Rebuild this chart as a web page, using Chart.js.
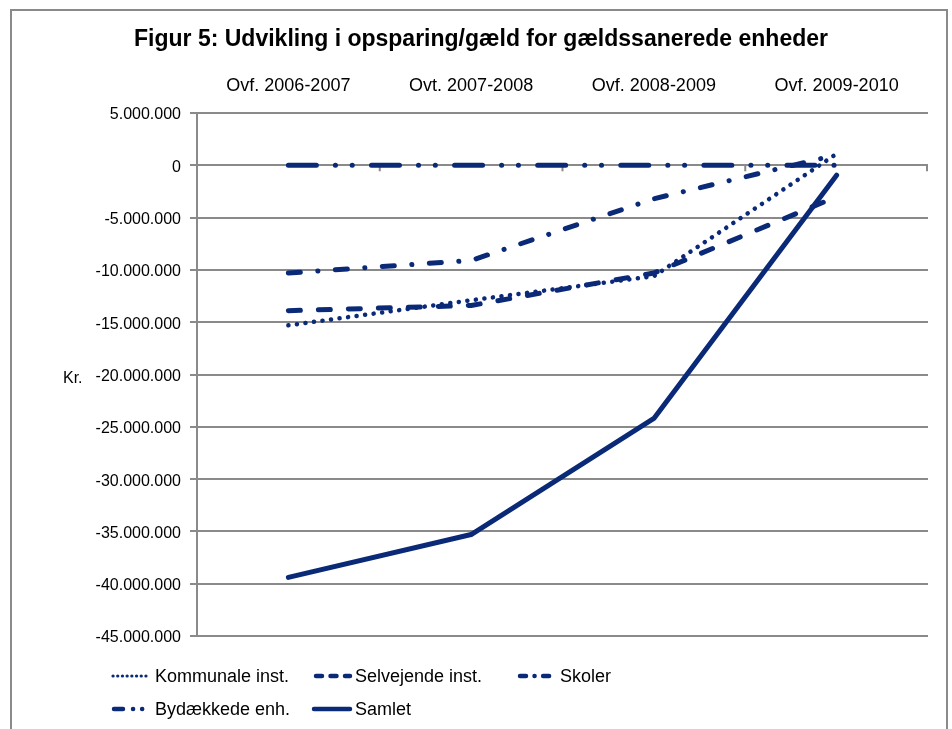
<!DOCTYPE html>
<html>
<head>
<meta charset="utf-8">
<script src="https://cdn.jsdelivr.net/npm/chart.js@4.4.1/dist/chart.umd.min.js"></script>
<style>
  html, body { margin: 0; padding: 0; background: #ffffff; }
  #wrap { position: relative; width: 952px; height: 729px; overflow: hidden; background: #fff; }
  #frame { position: absolute; left: 10px; top: 9px; width: 938px; height: 760px; border: 2px solid #8a8a8a; box-sizing: border-box; }
  canvas { position: absolute; left: 0; top: 0; }
</style>
</head>
<body>
<div id="wrap">
  <div id="frame"></div>
  <canvas id="c" width="952" height="729"></canvas>
</div>
<script>
const categories = ['Ovf. 2006-2007', 'Ovt. 2007-2008', 'Ovf. 2008-2009', 'Ovf. 2009-2010'];
const kommunale = [-15300000, -12900000, -10600000, 1100000];
const selvejende = [-13900000, -13400000, -10300000, -3000000];
const skoler = [-10300000, -9100000, -3200000, 1000000];
const bydaekkede = [0, 0, 0, 0];
const samlet = [-39400000, -35300000, -24200000, -950000];
const seriesNames = ['Kommunale inst.', 'Selvejende inst.', 'Skoler', 'Bydækkede enh.', 'Samlet'];
const titleText = 'Figur 5: Udvikling i opsparing/gæld for gældssanerede enheder';
const yAxisLabel = 'Kr.';

const NAVY = '#0a2a78';
const GRID = '#8a8a8a';
const FONT = "'Liberation Sans', Arial, sans-serif";
const X_SIZE = 18;
const Y_SIZE = 16;
const LEG_SIZE = 18;

function fmt(v) {
  const neg = v < 0;
  const s = Math.abs(Math.round(v)).toString().replace(/\B(?=(\d{3})+(?!\d))/g, '.');
  return (neg ? '-' : '') + s;
}

const styles = [
  { dash: [0.1, 8.5], width: 4.5, legDash: [0.1, 4.6], legWidth: 3.2 },
  { dash: [12, 18], width: 5, legDash: [6, 8.5], legWidth: 4.5 },
  { dash: [12, 17.5, 0.1, 17.5], width: 5, legDash: [6, 8.5, 0.1, 8.5], legWidth: 4.5 },
  { dash: [28, 19, 0.1, 16.7, 0.1, 19.2], width: 5, legDash: [9, 10, 0.1, 9, 0.1, 20], legWidth: 4.5 },
  { dash: [], width: 5, legDash: [], legWidth: 4.5 }
];
const dataArr = [kommunale, selvejende, skoler, bydaekkede, samlet];

const datasets = dataArr.map((d, i) => ({
  label: seriesNames[i],
  data: d,
  borderColor: NAVY,
  backgroundColor: NAVY,
  borderWidth: styles[i].width,
  borderDash: styles[i].dash,
  borderCapStyle: 'round',
  borderJoinStyle: 'round',
  pointRadius: 0,
  pointHoverRadius: 0,
  tension: 0,
  fill: false
}));

const decorPlugin = {
  id: 'decor',
  beforeDatasetsDraw(chart) {
    // category-axis tick marks on the zero line (between categories)
    const ctx = chart.ctx;
    const xs = chart.scales.x;
    const y0 = chart.scales.y.getPixelForValue(0);
    const n = categories.length;
    ctx.save();
    ctx.strokeStyle = GRID;
    ctx.lineWidth = 2;
    for (let k = 1; k <= n; k++) {
      const x = xs.left + k * (xs.right - xs.left) / n - (k === n ? 1 : 0);
      ctx.beginPath();
      ctx.moveTo(x, y0);
      ctx.lineTo(x, y0 + 6);
      ctx.stroke();
    }
    ctx.restore();
  },
  afterDraw(chart) {
    const ctx = chart.ctx;
    const area = chart.chartArea;
    ctx.save();
    // title
    ctx.fillStyle = '#000';
    ctx.font = 'bold 23px ' + FONT;
    ctx.textAlign = 'center';
    ctx.textBaseline = 'middle';
    ctx.fillText(titleText, 481, 40);
    // y axis label
    ctx.font = Y_SIZE + 'px ' + FONT;
    ctx.textAlign = 'left';
    ctx.fillText(yAxisLabel, 63, (area.top + area.bottom) / 2 + 4);
    // legend
    const items = [
      { i: 0, x1: 113, x2: 148, tx: 155, y: 676 },
      { i: 1, x1: 316, x2: 350, tx: 355, y: 676 },
      { i: 2, x1: 520, x2: 550, tx: 560, y: 676 },
      { i: 3, x1: 114, x2: 148, tx: 155, y: 709 },
      { i: 4, x1: 314, x2: 350, tx: 355, y: 709 }
    ];
    ctx.font = LEG_SIZE + 'px ' + FONT;
    items.forEach(it => {
      ctx.beginPath();
      ctx.strokeStyle = NAVY;
      ctx.lineWidth = styles[it.i].legWidth;
      ctx.lineCap = 'round';
      ctx.setLineDash(styles[it.i].legDash);
      ctx.moveTo(it.x1, it.y);
      ctx.lineTo(it.x2, it.y);
      ctx.stroke();
      ctx.setLineDash([]);
      ctx.fillStyle = '#000';
      ctx.textAlign = 'left';
      ctx.textBaseline = 'middle';
      ctx.fillText(seriesNames[it.i], it.tx, it.y + 1);
    });
    ctx.restore();
  }
};

new Chart(document.getElementById('c'), {
  type: 'line',
  data: { labels: categories, datasets },
  options: {
    responsive: false,
    animation: false,
    devicePixelRatio: 1,
    layout: { padding: { left: 0, right: 24, top: 0, bottom: 93 } },
    plugins: { legend: { display: false }, title: { display: false }, tooltip: { enabled: false } },
    scales: {
      x: {
        type: 'category',
        position: 'top',
        offset: true,
        grid: { display: false, drawTicks: false },
        border: { display: false },
        ticks: { color: '#000', font: { family: FONT, size: X_SIZE }, padding: 16, maxRotation: 0, autoSkip: false },
        afterFit(s) { s.height = 113; }
      },
      y: {
        min: -45000000,
        max: 5000000,
        grid: { color: GRID, lineWidth: 2, drawTicks: true, tickLength: 7 },
        border: { display: true, color: GRID, width: 2 },
        ticks: { stepSize: 5000000, color: '#000', font: { family: FONT, size: Y_SIZE }, padding: 9, labelOffset: 2, callback: v => fmt(v) },
        afterFit(s) { s.width = 197; }
      }
    }
  },
  plugins: [decorPlugin]
});
</script>
</body>
</html>
